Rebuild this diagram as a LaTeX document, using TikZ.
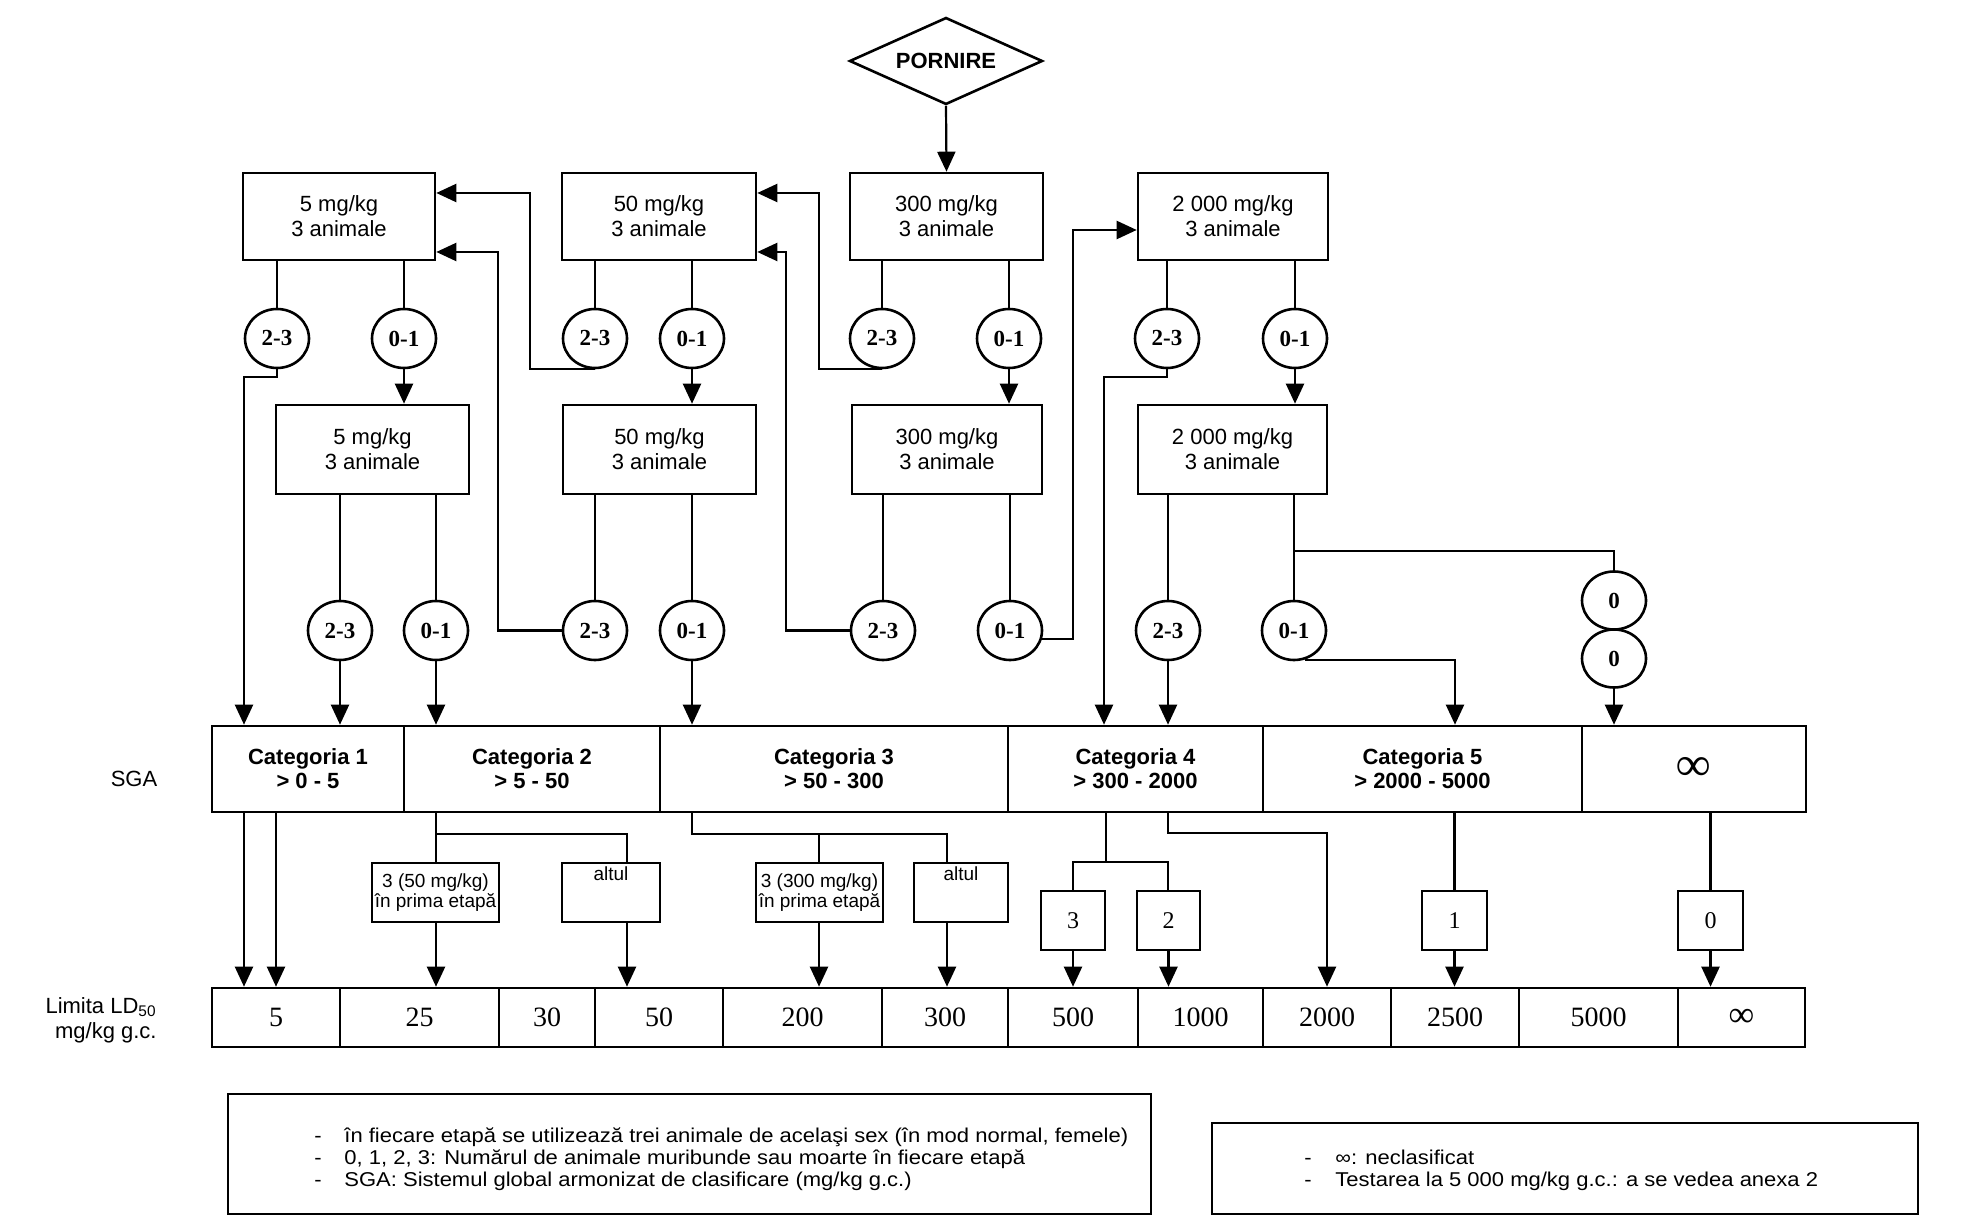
\documentclass[tikz,border=0pt]{standalone}
\usepackage{fontspec}
\setmainfont{Liberation Sans}
\newfontfamily\numfont{Liberation Serif}
\newfontfamily\legfont[FakeStretch=1.1]{Liberation Sans}
\usetikzlibrary{shapes.geometric,arrows.meta}
\newcommand\mkcell[7]{%
  \pgfmathsetmacro\mkX{(#3+#4)/2}%
  \pgfmathsetmacro\mkY{(#5+#6)/2}%
  \pgfmathsetmacro\mkW{(#4-#3)/2}%
  \pgfmathsetmacro\mkH{(#6-#5)/2}%
  \node[#1, minimum width=\mkW pt, minimum height=\mkH pt] (#2) at (\mkX,\mkY) {#7};}
\begin{document}
\begin{tikzpicture}[x=0.5pt,y=-0.5pt,
  box/.style={draw, line width=1.3pt, inner sep=0pt, align=center, font=\fontsize{11}{12.5}\selectfont},
  circ/.style={draw, ellipse, line width=1.3pt, inner sep=0pt, minimum width=32pt, minimum height=29.5pt, font=\numfont\bfseries\fontsize{11.5}{12}\selectfont},
  cat/.style={box, font=\bfseries\fontsize{11}{12}\selectfont},
  ld/.style={box, font=\numfont\fontsize{14}{14}\selectfont},
  smallbox/.style={box, font=\fontsize{9.5}{10.3}\selectfont},
  lab/.style={inner sep=0pt, yshift=-2.5pt, font=\fontsize{9.5}{10.3}\selectfont},
  dig/.style={box, font=\numfont\fontsize{12}{12}\selectfont},
  legt/.style={inner sep=0pt, font=\legfont\fontsize{10}{11.5}\selectfont},
  conn/.style={line width=1.1pt},
  arr/.style={conn, -{Triangle[width=9pt,length=10pt]}}]
\useasboundingbox (0,0) rectangle (1969,1229);

% start
\node[draw, diamond, aspect=2.2, line width=1.3pt, inner sep=0pt, minimum width=96.5pt, minimum height=43.5pt, font=\bfseries\fontsize{11}{12}\selectfont] (D) at (946,61) {PORNIRE};

% top boxes
\mkcell{box}{B1}{243}{435}{173}{260}{5 mg/kg\\3 animale}
\mkcell{box}{B2}{562}{756}{173}{260}{50 mg/kg\\3 animale}
\mkcell{box}{B3}{850}{1043}{173}{260}{300 mg/kg\\3 animale}
\mkcell{box}{B4}{1138}{1328}{173}{260}{2 000 mg/kg\\3 animale}
% second boxes
\mkcell{box}{C1}{276}{469}{405}{494}{5 mg/kg\\3 animale}
\mkcell{box}{C2}{563}{756}{405}{494}{50 mg/kg\\3 animale}
\mkcell{box}{C3}{852}{1042}{405}{494}{300 mg/kg\\3 animale}
\mkcell{box}{C4}{1138}{1327}{405}{494}{2 000 mg/kg\\3 animale}

% circles row 1
\node[circ] (a1) at (277,338.5) {2-3};
\node[circ] (a2) at (404,338.5) {0-1};
\node[circ] (a3) at (595,338.5) {2-3};
\node[circ] (a4) at (692,338.5) {0-1};
\node[circ] (a5) at (882,338.5) {2-3};
\node[circ] (a6) at (1009,338.5) {0-1};
\node[circ] (a7) at (1167,338.5) {2-3};
\node[circ] (a8) at (1295,338.5) {0-1};
% circles row 2
\node[circ] (b1) at (340,630.5) {2-3};
\node[circ] (b2) at (436,630.5) {0-1};
\node[circ] (b3) at (595,630.5) {2-3};
\node[circ] (b4) at (692,630.5) {0-1};
\node[circ] (b5) at (883,630.5) {2-3};
\node[circ] (b6) at (1010,630.5) {0-1};
\node[circ] (b7) at (1168,630.5) {2-3};
\node[circ] (b8) at (1294,630.5) {0-1};
\node[circ, minimum height=29pt] (z1) at (1614,600.5) {0};
\node[circ, minimum height=29pt] (z2) at (1614,658.5) {0};

% SGA row
\mkcell{cat}{K1}{212}{404}{726}{812}{Categoria 1\\> 0 - 5}
\mkcell{cat}{K2}{404}{660}{726}{812}{Categoria 2\\> 5 - 50}
\mkcell{cat}{K3}{660}{1008}{726}{812}{Categoria 3\\> 50 - 300}
\mkcell{cat}{K4}{1008}{1263}{726}{812}{Categoria 4\\> 300 - 2000}
\mkcell{cat}{K5}{1263}{1582}{726}{812}{Categoria 5\\> 2000 - 5000}
\mkcell{cat, font=\numfont\bfseries\fontsize{24}{24}\selectfont}{K6}{1582}{1806}{726}{812}{∞}

% small boxes
\mkcell{smallbox}{n1}{372}{499}{863}{922}{3 (50 mg/kg)\\în prima etapă}
\mkcell{smallbox, label={[lab, anchor=north]north:altul}}{n2}{562}{660}{863}{922}{}
\mkcell{smallbox}{n3}{756}{883}{863}{922}{3 (300 mg/kg)\\în prima etapă}
\mkcell{smallbox, label={[lab, anchor=north]north:altul}}{n4}{914}{1008}{863}{922}{}
\mkcell{dig}{n5}{1041}{1105}{891}{950}{3}
\mkcell{dig}{n6}{1137}{1200}{891}{950}{2}
\mkcell{dig}{n7}{1422}{1487}{891}{950}{1}
\mkcell{dig}{n8}{1678}{1743}{891}{950}{0}

% LD50 row
\mkcell{ld}{L1}{212}{340}{988}{1047}{5}
\mkcell{ld}{L2}{340}{499}{988}{1047}{25}
\mkcell{ld}{L3}{499}{595}{988}{1047}{30}
\mkcell{ld}{L4}{595}{723}{988}{1047}{50}
\mkcell{ld}{L5}{723}{882}{988}{1047}{200}
\mkcell{ld}{L6}{882}{1008}{988}{1047}{300}
\mkcell{ld}{L7}{1008}{1138}{988}{1047}{500}
\mkcell{ld}{L8}{1138}{1263}{988}{1047}{1000}
\mkcell{ld}{L9}{1263}{1391}{988}{1047}{2000}
\mkcell{ld}{L10}{1391}{1519}{988}{1047}{2500}
\mkcell{ld}{L11}{1519}{1678}{988}{1047}{5000}
\mkcell{ld, font=\numfont\fontsize{18}{18}\selectfont}{L12}{1678}{1805}{988}{1047}{\raisebox{-1.5pt}{∞}}

% side labels
\node[font=\fontsize{11}{12}\selectfont] (sga) at (134,779) {SGA};
\node[align=right, anchor=east, inner sep=0pt, font=\fontsize{11}{12.5}\selectfont] (lim) at (157,1020.5) {Limita LD\textsubscript{50}\\mg/kg g.c.};

% legend
\mkcell{box}{G1}{228}{1151}{1094}{1214}{}
\mkcell{box}{G2}{1212}{1918}{1123}{1214}{}
\node[legt, anchor=base west] (t1) at (314,1142) {\makebox[15pt][l]{-}în fiecare etapă se utilizează trei animale de acelaşi sex (în mod normal, femele)};
\node[legt, anchor=base west] (t2) at (314,1164) {\makebox[15pt][l]{-}0, 1, 2, 3: Numărul de animale muribunde sau moarte în fiecare etapă};
\node[legt, anchor=base west] (t3) at (314,1186) {\makebox[15pt][l]{-}SGA: Sistemul global armonizat de clasificare (mg/kg g.c.)};
\node[legt, anchor=base west] (t4) at (1304,1164) {\makebox[15.5pt][l]{-}∞: neclasificat};
\node[legt, anchor=base west] (t5) at (1304,1186) {\makebox[15.5pt][l]{-}Testarea la 5 000 mg/kg g.c.: a se vedea anexa 2};

% turning points
\coordinate (p1) at (244,377);
\coordinate (p2) at (530,193);
\coordinate (p3) at (819,193);
\coordinate (p4) at (498,252);
\coordinate (p5) at (786,252);
\coordinate (p6) at (1073,230);
\coordinate (p7) at (1104,377);
\coordinate (p8) at (1455,0);
\coordinate (p9) at (1294,551);
\coordinate (q1) at (244,0);
\coordinate (q2) at (276,0);
\coordinate (c1) at (436,834);
\coordinate (c2) at (627,834);
\coordinate (c3) at (692,834);
\coordinate (c4) at (819,834);
\coordinate (c5) at (947,834);
\coordinate (c6) at (1106,862);
\coordinate (c7) at (1073,862);
\coordinate (c8) at (1168,862);
\coordinate (c9) at (1168,833);
\coordinate (c10) at (1327,833);

% start arrow
\draw[arr] (D.south) -- (B3.north);
% boxes to circles
\foreach \c/\b in {a1/B1,a2/B1,a3/B2,a4/B2,a5/B3,a6/B3,a7/B4,a8/B4}
  \draw[conn] (\c |- \b.south) -- (\c.north);
\foreach \c/\b in {b1/C1,b2/C1,b3/C2,b4/C2,b5/C3,b6/C3,b7/C4,b8/C4}
  \draw[conn] (\c |- \b.south) -- (\c.north);
% 0-1 row 1 to second boxes
\draw[arr] (a2.south) -- (a2.south |- C1.north);
\draw[arr] (a4.south) -- (a4.south |- C2.north);
\draw[arr] (a6.south) -- (a6.south |- C3.north);
\draw[arr] (a8.south) -- (a8.south |- C4.north);
% routings
\draw[arr] (a1.south) |- (p1) -- (p1 |- K1.north);
\draw[arr] (a3.south) -| (p2) -- (p2 -| B1.east);
\draw[arr] (a5.south) -| (p3) -- (p3 -| B2.east);
\draw[arr] (b3.west) -| (p4) -- (p4 -| B1.east);
\draw[arr] (b5.west) -| (p5) -- (p5 -| B2.east);
\draw[arr] (b6.-15) -| (p6) -- (p6 -| B4.west);
\draw[arr] (a7.south) |- (p7) -- (p7 |- K4.north);
\draw[arr] (b8.-70) -| (p8 |- K5.north);
\draw[conn] (p9) -| (z1.north);
\draw[arr] (z2.south) -- (z2.south |- K6.north);
\draw[arr] (b1.south) -- (b1.south |- K1.north);
\draw[arr] (b2.south) -- (b2.south |- K2.north);
\draw[arr] (b4.south) -- (b4.south |- K3.north);
\draw[arr] (b7.south) -- (b7.south |- K4.north);

% lower part
\draw[arr] (q1 |- K1.south) -- (q1 |- L1.north);
\draw[arr] (q2 |- K1.south) -- (q2 |- L1.north);
\draw[conn] (c1 |- K2.south) -- (c1) -- (c1 |- n1.north);
\draw[conn] (c1) -- (c2) -- (c2 |- n2.north);
\draw[arr] (c1 |- n1.south) -- (c1 |- L2.north);
\draw[arr] (c2 |- n2.south) -- (c2 |- L4.north);
\draw[conn] (c3 |- K3.south) -- (c3) -- (c5) -- (c5 |- n4.north);
\draw[conn] (c4) -- (c4 |- n3.north);
\draw[arr] (c4 |- n3.south) -- (c4 |- L5.north);
\draw[arr] (c5 |- n4.south) -- (c5 |- L6.north);
\draw[conn] (c6 |- K4.south) -- (c6);
\draw[conn] (c7 |- n5.north) -- (c7) -- (c8) -- (c8 |- n6.north);
\draw[arr] (n5.south) -- (n5.south |- L7.north);
\draw[arr] (n6.south) -- (n6.south |- L8.north);
\draw[arr] (c9 |- K4.south) -- (c9) -- (c10) -- (c10 |- L9.north);
\draw[conn] (n7.north |- K5.south) -- (n7.north);
\draw[arr] (n7.south) -- (n7.south |- L10.north);
\draw[conn] (n8.north |- K6.south) -- (n8.north);
\draw[arr] (n8.south) -- (n8.south |- L12.north);
\end{tikzpicture}
\end{document}
